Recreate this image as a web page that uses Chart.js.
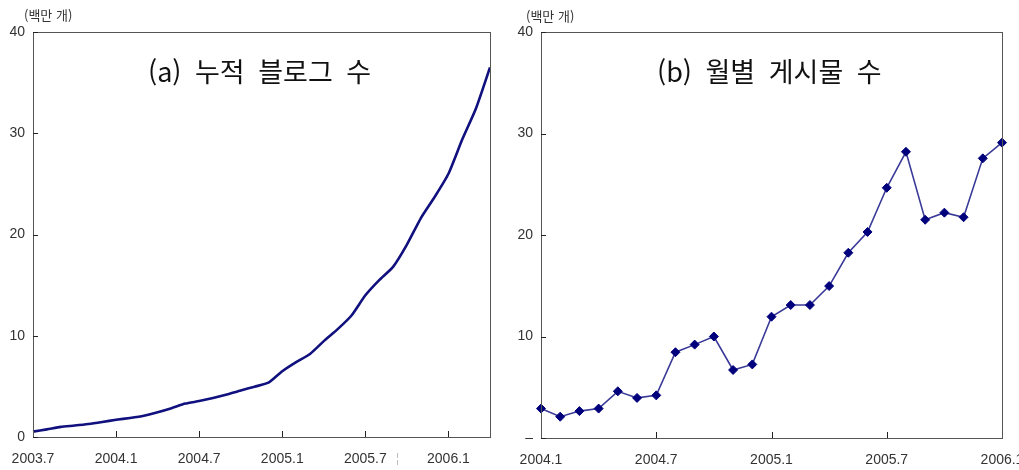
<!DOCTYPE html>
<html lang="ko">
<head>
<meta charset="utf-8">
<script src="https://cdn.jsdelivr.net/npm/chart.js@4.4.1/dist/chart.umd.min.js"></script>
<style>
  html, body { margin: 0; padding: 0; background: #ffffff; overflow: hidden; }
  body { width: 1019px; height: 470px; position: relative; font-family: "Noto Sans CJK KR", "Noto Sans", sans-serif; }
  canvas { position: absolute; top: 0; }
  #cumCanvas { left: 0; }
  #postCanvas { left: 505px; }
  .title { position: absolute; font-size: 27px; color: #111; white-space: pre; word-spacing: 6px; line-height: 1; }
  .unit { position: absolute; font-size: 13px; color: #333; white-space: pre; line-height: 1; }
  .mark { position: absolute; font-size: 12px; color: #bbb; font-family: "Liberation Sans", sans-serif; line-height: 1; }
</style>
</head>
<body>
<canvas id="cumCanvas" width="505" height="470"></canvas>
<canvas id="postCanvas" width="530" height="470"></canvas>
<div class="title" style="left:148px; top:57px;">(a) 누적 블로그 수</div>
<div class="title" style="left:657px; top:57px;">(b) 월별 게시물 수</div>
<div class="unit" style="left:24px; top:8px;">(백만 개)</div>
<div class="unit" style="left:526px; top:9px;">(백만 개)</div>
<div class="mark" style="left:396px; top:452px;">¦</div>
<script>
// Cumulative number of blogs, monthly (millions)
const cumMonths = ['2003.7','2003.8','2003.9','2003.10','2003.11','2003.12',
  '2004.1','2004.2','2004.3','2004.4','2004.5','2004.6',
  '2004.7','2004.8','2004.9','2004.10','2004.11','2004.12',
  '2005.1','2005.2','2005.3','2005.4','2005.5','2005.6',
  '2005.7','2005.8','2005.9','2005.10','2005.11','2005.12',
  '2006.1','2006.2','2006.3','2006.4'];
const cumBlogs = [0.53, 0.75, 1.0, 1.13, 1.28, 1.48,
  1.7, 1.88, 2.1, 2.45, 2.85, 3.3,
  3.55, 3.85, 4.2, 4.6, 4.97, 5.36,
  6.5, 7.4, 8.2, 9.47, 10.65, 12.0,
  14.0, 15.5, 16.8, 19.0, 21.6, 23.7,
  26.0, 29.4, 32.5, 36.5];

// Number of posts per month (millions)
const postMonths = ['2004.1','2004.2','2004.3','2004.4','2004.5','2004.6',
  '2004.7','2004.8','2004.9','2004.10','2004.11','2004.12',
  '2005.1','2005.2','2005.3','2005.4','2005.5','2005.6',
  '2005.7','2005.8','2005.9','2005.10','2005.11','2005.12',
  '2006.1'];
const monthlyPosts = [2.9, 2.1, 2.65, 2.9, 4.6, 3.95,
  4.2, 8.45, 9.2, 10.0, 6.7, 7.25,
  11.95, 13.1, 13.1, 14.97, 18.25, 20.3,
  24.65, 28.2, 21.5, 22.2, 21.75, 27.55,
  29.1];

// Y-axis tick values shared by both panels
const yTicks = [0, 10, 20, 30, 40];

const tickFont = { family: "'Liberation Sans', Arial, sans-serif", size: 14 };
const isHalfYear = lbl => /\.(1|7)$/.test(lbl);

// Frame around the plot area plus short inward tick marks
const framePlugin = {
  id: 'frame',
  afterDraw(chart, args, opts) {
    const { ctx, chartArea: a, scales } = chart;
    ctx.save();
    ctx.strokeStyle = '#555';
    ctx.lineWidth = 1;
    ctx.strokeRect(Math.round(a.left) + 0.5, Math.round(a.top) + 0.5,
      Math.round(a.right - a.left), Math.round(a.bottom - a.top));
    ctx.strokeStyle = '#222';
    ctx.beginPath();
    scales.x.ticks.forEach((t, i) => {
      const px = Math.round(scales.x.getPixelForTick(i)) + 0.5;
      if (px <= a.left + 1 || px >= a.right - 1) return;
      ctx.moveTo(px, a.bottom);
      ctx.lineTo(px, a.bottom - opts.xLen);
    });
    scales.y.ticks.forEach(t => {
      const py = Math.round(scales.y.getPixelForValue(t.value)) + 0.5;
      ctx.moveTo(a.left, py);
      ctx.lineTo(a.left + opts.yLen, py);
    });
    ctx.stroke();
    ctx.restore();
  }
};

function makeOptions(cfg) {
  return {
    responsive: false,
    animation: false,
    layout: { padding: { top: 32, right: cfg.padRight, left: 0, bottom: 0 } },
    plugins: { legend: { display: false }, tooltip: { enabled: false },
      frame: { xLen: 6, yLen: 5 } },
    scales: {
      x: {
        type: 'category',
        offset: false,
        grid: { display: false, drawTicks: false },
        border: { display: false },
        ticks: {
          autoSkip: false, maxRotation: 0, padding: 14,
          color: '#333', font: tickFont,
          callback: function (v) { return this.getLabelForValue(v); }
        },
        afterBuildTicks: s => {
          s.ticks = s.ticks.filter(t => isHalfYear(s.getLabelForValue(t.value)));
        },
        afterFit: s => {
          s.height = cfg.xHeight;
          // let the end labels hang past the plot edges
          s.paddingLeft = 0;
          s.paddingRight = 0;
        }
      },
      y: {
        min: 0, max: 40,
        grid: { display: false, drawTicks: false },
        border: { display: false },
        afterBuildTicks: s => { s.ticks = yTicks.map(v => ({ value: v })); },
        ticks: {
          padding: 8, color: '#333', font: tickFont,
          callback: cfg.yLabel
        },
        afterFit: s => { s.width = cfg.yWidth; }
      }
    }
  };
}

new Chart(document.getElementById('cumCanvas'), {
  type: 'line',
  data: {
    labels: cumMonths,
    datasets: [{
      data: cumBlogs,
      borderColor: '#10107e',
      borderWidth: 2.6,
      pointRadius: 0,
      tension: 0.2,
      fill: false
    }]
  },
  options: makeOptions({ padRight: 15, xHeight: 33, yWidth: 33, yLabel: v => String(v) }),
  plugins: [framePlugin]
});

new Chart(document.getElementById('postCanvas'), {
  type: 'line',
  data: {
    labels: postMonths,
    datasets: [{
      data: monthlyPosts,
      borderColor: '#3a3a98',
      borderWidth: 1.6,
      pointStyle: 'rectRot',
      pointRadius: 4.5,
      pointBackgroundColor: '#00007c',
      pointBorderColor: '#00007c',
      pointBorderWidth: 1,
      tension: 0,
      fill: false
    }]
  },
  options: makeOptions({ padRight: 33, xHeight: 32, yWidth: 36, yLabel: v => (v === 0 ? '–' : String(v)) }),
  plugins: [framePlugin]
});
</script>
</body>
</html>
